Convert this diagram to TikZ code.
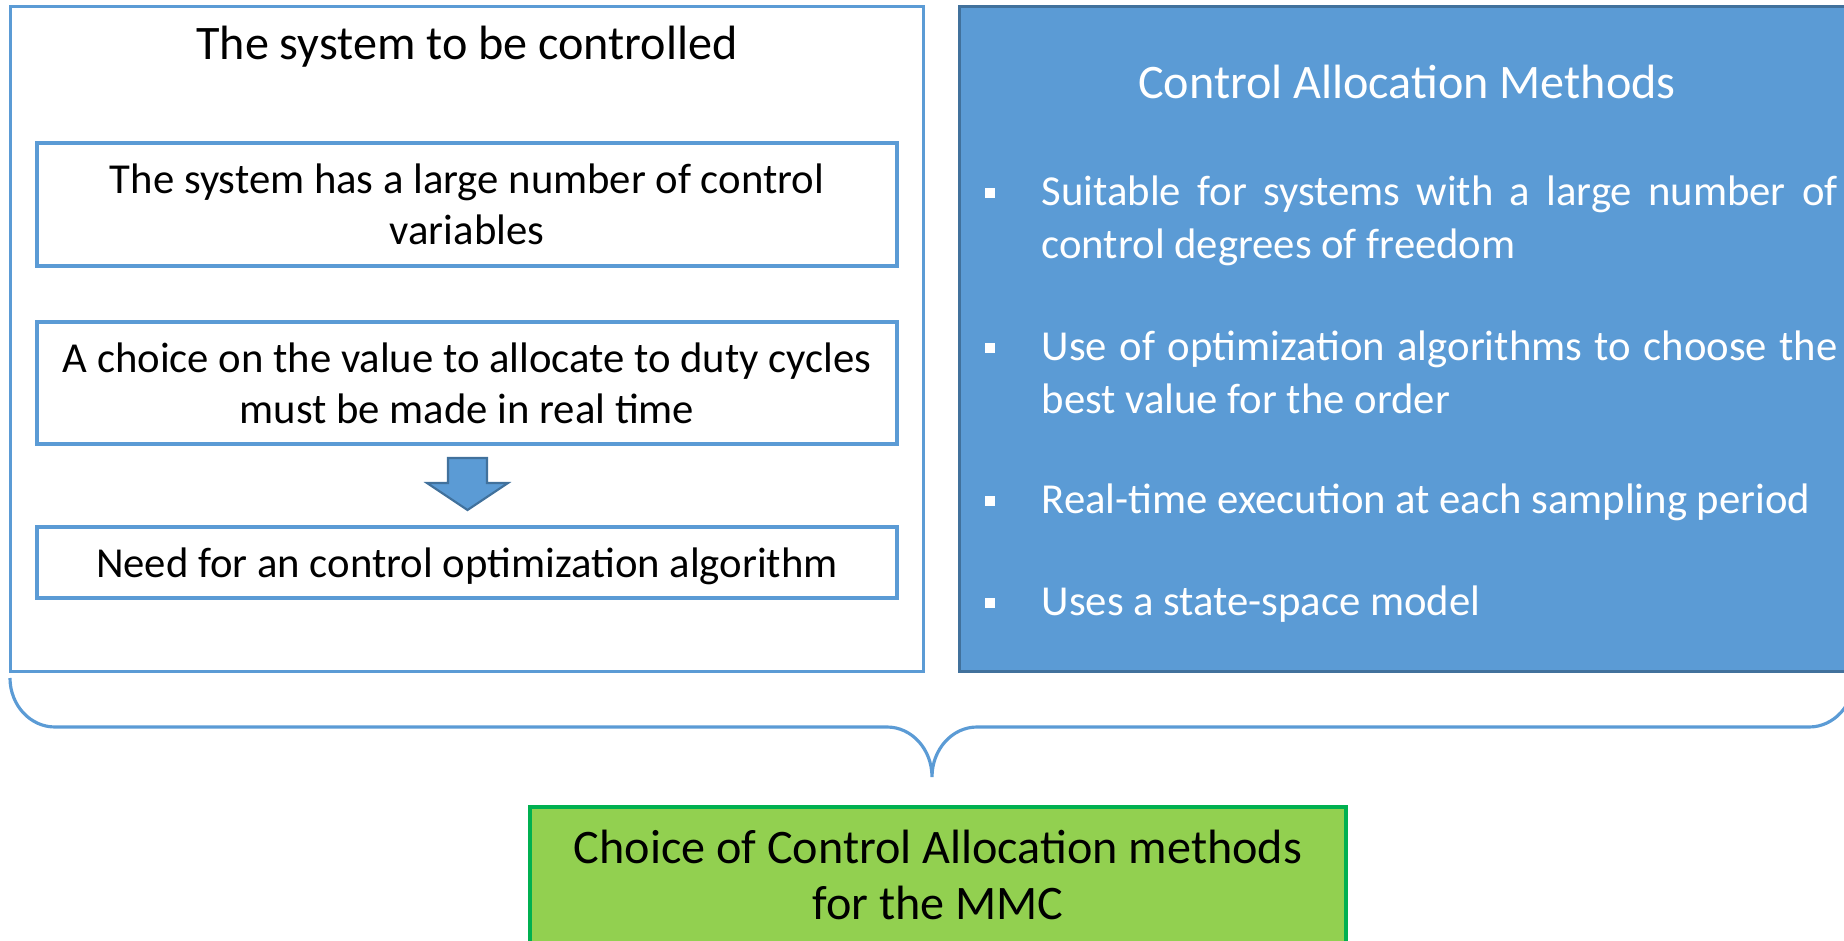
\documentclass[tikz,border=0pt]{standalone}
\usepackage{fontspec}
\setmainfont{Carlito}
\definecolor{accblue}{HTML}{5B9BD5}
\definecolor{darkblue}{HTML}{41719C}
\definecolor{leafgreen}{HTML}{92D050}
\definecolor{edgegreen}{HTML}{00B050}
\newcommand{\titlefont}{\fontsize{13.7}{15.9}\selectfont}
\newcommand{\bodyfont}{\fontsize{12.15}{14.5}\selectfont}
\newcommand{\bulletfont}{\fontsize{12.15}{15.1}\selectfont}

\begin{document}
\begin{tikzpicture}[
        outerbox/.style={draw=accblue, line width=0.9pt, minimum width=9.13cm, minimum height=6.65cm, inner sep=0},
        methodbox/.style={draw=darkblue, fill=accblue, line width=0.6pt, minimum width=8.97cm, minimum height=6.65cm, inner sep=0},
        innerbox/.style={draw=accblue, line width=1.1pt, minimum width=8.60cm, minimum height=1.225cm, align=center, font=\bodyfont},
        titletext/.style={font=\titlefont, inner sep=0},
        bulletmark/.style={fill=white, minimum size=0.105cm, inner sep=0},
        bullettext/.style={anchor=base west, text width=7.96cm, align=justify, inner sep=0, text=white, font=\bulletfont},
        resultbox/.style={draw=edgegreen, fill=leafgreen, line width=1.4pt, minimum width=8.16cm, minimum height=1.36cm, align=center, font=\titlefont},
        bracepath/.style={draw=accblue, line width=0.9pt}
    ]
    \useasboundingbox (0,0) rectangle (18.44,-9.41);
    \clip (0,0) rectangle (18.44,-9.41);

    % left column
    \node[outerbox] (system) at (4.673,-3.39) {};
    \node[titletext] (systitle) at (4.67,-0.47) {The system to be controlled};
    \node[innerbox] (large) at (4.67,-2.045) {The system has a large number of control\\variables};
    \node[innerbox] (choice) at (4.67,-3.83) {A choice on the value to allocate to duty cycles\\must be made in real time};
    \node[innerbox, minimum height=0.71cm] (need) at (4.67,-5.625) {};
    \node[font=\bodyfont, inner sep=0] (needtext) at (4.67,-5.66) {Need for an control optimization algorithm};
    \draw[fill=accblue, draw=darkblue, line width=0.6pt] (4.48,-4.58) -- (4.87,-4.58) -- (4.87,-4.83) -- (5.08,-4.83)
        -- (4.675,-5.10) -- (4.27,-4.83) -- (4.48,-4.83) -- cycle;

    % right column
    \node[methodbox] (methods) at (14.08,-3.39) {};
    \node[titletext, text=white] (methtitle) at (14.07,-0.82) {Control Allocation Methods};

    \node[bulletmark] (b1) at (9.90,-1.93) {};
    \node[bullettext] (t1) at (10.41,-2.05) {Suitable for systems with a large number of\linebreak control degrees of freedom};
    \node[bulletmark] (b2) at (9.90,-3.48) {};
    \node[bullettext] (t2) at (10.41,-3.60) {Use of optimization algorithms to choose the\linebreak best value for the order};
    \node[bulletmark] (b3) at (9.90,-5.01) {};
    \node[bullettext] (t3) at (10.41,-5.13) {Real-time execution at each sampling period};
    \node[bulletmark] (b4) at (9.90,-6.03) {};
    \node[bullettext] (t4) at (10.41,-6.15) {Uses a state-space model};

    % brace and result
    \draw[bracepath] (0.10,-6.78) arc[start angle=180, end angle=270, x radius=0.45cm, y radius=0.49cm]
        -- (8.87,-7.27) arc[start angle=90, end angle=0, x radius=0.45cm, y radius=0.50cm] coordinate (tip)
        arc[start angle=180, end angle=90, x radius=0.45cm, y radius=0.50cm]
        -- (18.09,-7.27) arc[start angle=270, end angle=360, x radius=0.45cm, y radius=0.49cm];

    \node[resultbox] (result) at (9.38,-8.75) {Choice of Control Allocation methods\\for the MMC};
\end{tikzpicture}
\end{document}
